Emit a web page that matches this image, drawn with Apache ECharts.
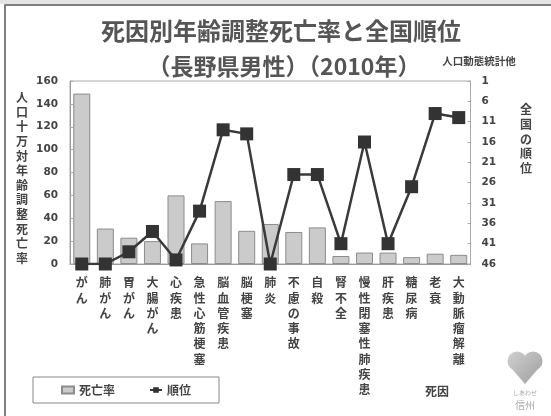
<!DOCTYPE html>
<html>
<head>
<meta charset="utf-8">
<script src="https://cdn.jsdelivr.net/npm/echarts@6/dist/echarts.min.js"></script>
<style>
  html, body { margin: 0; padding: 0; background: #fff; }
  #chart { width: 551px; height: 416px; }
</style>
</head>
<body>
<div id="chart"></div>
<script>
// 死因 (causes of death), Nagano prefecture, male, 2010
const categories = [
  'がん', '肺がん', '胃がん', '大腸がん', '心疾患', '急性心筋梗塞',
  '脳血管疾患', '脳梗塞', '肺炎', '不慮の事故', '自殺', '腎不全',
  '慢性閉塞性肺疾患', '肝疾患', '糖尿病', '老衰', '大動脈瘤解離'
];
// age-adjusted death rate per 100,000
const deathRates = [149, 31, 23, 20, 60, 18, 55, 29, 35, 28, 32, 7, 10, 10, 6, 9, 8];
// national rank (1 = best, 47 prefectures)
const ranks = [46, 46, 43, 38, 45, 33, 13, 14, 46, 24, 24, 41, 16, 41, 27, 9, 10];

const FONT = '"Noto Sans CJK JP", "Noto Sans", sans-serif';
const NUM_FONT = '"DejaVu Sans", sans-serif';
const TEXT = '#444';

const vertical = s => s.split('').join('\n');

// shared fill for the heart mark pieces
const heartFill = {
  type: 'linear', x: 506, y: 350, x2: 544, y2: 386, global: true,
  colorStops: [{ offset: 0, color: '#d2d2d2' }, { offset: 1, color: '#9c9c9c' }]
};

const chart = echarts.init(document.getElementById('chart'), null, { renderer: 'canvas' });

chart.setOption({
  backgroundColor: '#fff',
  animation: false,
  grid: {
    left: 70, right: 80.5, top: 81, bottom: 152,
    show: true, borderColor: '#aaa', borderWidth: 1, backgroundColor: 'transparent'
  },
  legend: {
    left: 33, top: 377,
    padding: [7, 28, 7, 28],
    borderColor: '#888', borderWidth: 1,
    itemGap: 34, itemWidth: 12, itemHeight: 7,
    textStyle: { fontFamily: FONT, fontSize: 12, fontWeight: 'bold', color: TEXT },
    data: [
      { name: '死亡率', icon: 'rect' },
      { name: '順位' }
    ]
  },
  xAxis: {
    type: 'category',
    data: categories,
    axisLine: { show: true, lineStyle: { color: '#999', width: 1 } },
    axisTick: { show: false },
    axisLabel: {
      interval: 0,
      formatter: vertical,
      fontFamily: FONT, fontSize: 12, fontWeight: 'bold', color: TEXT,
      lineHeight: 15.3, verticalAlign: 'top', margin: 11
    }
  },
  yAxis: [
    {
      type: 'value', min: 0, max: 160, interval: 20,
      axisLine: { show: true, lineStyle: { color: '#999' } },
      axisTick: { show: true, inside: true, length: 3, lineStyle: { color: '#aaa' } },
      splitLine: { show: false },
      axisLabel: { fontFamily: NUM_FONT, fontSize: 10.5, fontWeight: 'bold', color: TEXT, margin: 12 }
    },
    {
      type: 'value', inverse: true, min: 1, max: 46, interval: 5,
      position: 'right',
      axisLine: { show: true, lineStyle: { color: '#aaa' } },
      axisTick: { show: true, inside: true, length: 3, lineStyle: { color: '#aaa' } },
      splitLine: { show: false },
      axisLabel: { fontFamily: NUM_FONT, fontSize: 10.5, fontWeight: 'bold', color: TEXT, margin: 11 }
    }
  ],
  series: [
    {
      name: '死亡率',
      type: 'bar',
      data: deathRates,
      barWidth: 17,
      itemStyle: { color: '#cbcbcb', borderColor: '#8c8c8c', borderWidth: 1 },
      z: 2
    },
    {
      name: '順位',
      type: 'line',
      yAxisIndex: 1,
      data: ranks,
      symbol: 'rect',
      symbolSize: 13,
      lineStyle: { color: '#3a3a3a', width: 2.5 },
      itemStyle: { color: '#333' },
      z: 3
    }
  ],
  graphic: [
    // page frame
    { type: 'rect', shape: { x: 0, y: 0, width: 551, height: 4 }, style: { fill: '#e4e4e4' }, silent: true },
    { type: 'polyline', shape: { points: [[5, 416], [5, 5], [551, 5]] },
      style: { stroke: '#555', lineWidth: 1.5, fill: 'none' }, silent: true },
    // titles
    { type: 'text', x: 281, y: 31, style: {
      text: '死因別年齢調整死亡率と全国順位', fontFamily: FONT, fontSize: 24, fontWeight: 'bold',
      fill: '#555', align: 'center', verticalAlign: 'middle' } },
    { type: 'text', x: 284, y: 66, style: {
      text: '（長野県男性）（2010年）', fontFamily: FONT, fontSize: 23, fontWeight: 'bold',
      fill: '#555', align: 'center', verticalAlign: 'middle' } },
    { type: 'text', x: 479, y: 61, style: {
      text: '人口動態統計他', fontFamily: FONT, fontSize: 10.5, fontWeight: 'bold',
      fill: TEXT, align: 'center', verticalAlign: 'middle' } },
    // axis titles
    { type: 'text', x: 22, y: 178, style: {
      text: vertical('人口十万対年齢調整死亡率'), fontFamily: FONT, fontSize: 12, fontWeight: 'bold',
      lineHeight: 14.6, fill: TEXT, align: 'center', verticalAlign: 'middle' } },
    { type: 'text', x: 526, y: 139, style: {
      text: vertical('全国の順位'), fontFamily: FONT, fontSize: 12, fontWeight: 'bold',
      lineHeight: 14.6, fill: TEXT, align: 'center', verticalAlign: 'middle' } },
    { type: 'text', x: 437, y: 391, style: {
      text: '死因', fontFamily: FONT, fontSize: 12, fontWeight: 'bold',
      fill: TEXT, align: 'center', verticalAlign: 'middle' } },
    // heart mark
    { type: 'circle', shape: { cx: 517, cy: 361, r: 9.5 }, style: { fill: heartFill }, silent: true },
    { type: 'circle', shape: { cx: 533, cy: 361, r: 9.5 }, style: { fill: heartFill }, silent: true },
    { type: 'polygon', shape: { points: [[508.2, 364.5], [541.8, 364.5], [525, 384]] }, style: { fill: heartFill }, silent: true },
    { type: 'text', x: 525, y: 393, style: {
      text: 'しあわせ', fontFamily: FONT, fontSize: 6, fill: '#aaa', align: 'center', verticalAlign: 'middle' } },
    { type: 'text', x: 525, y: 405, style: {
      text: '信州', fontFamily: FONT, fontSize: 10, fill: '#aaa', align: 'center', verticalAlign: 'middle' } }
  ]
});
</script>
</body>
</html>
